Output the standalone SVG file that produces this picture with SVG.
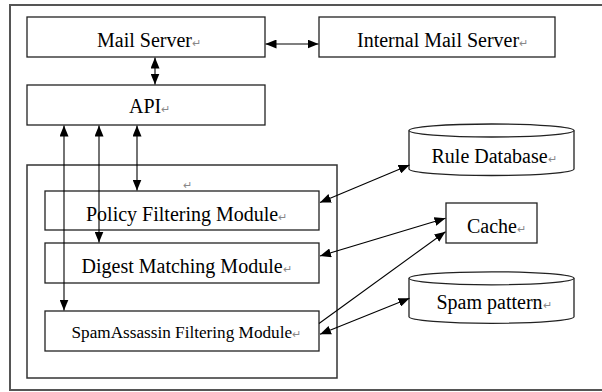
<svg xmlns="http://www.w3.org/2000/svg" width="602" height="392" viewBox="0 0 602 392">
<defs>
<marker id="ah" viewBox="0 0 11 9" refX="11" refY="4.5" markerWidth="11" markerHeight="9" markerUnits="userSpaceOnUse" orient="auto-start-reverse">
<path d="M0,0 L11,4.5 L0,9 z" fill="#000"/>
</marker>
</defs>
<style>
.frame{fill:none;stroke:#555;stroke-width:2}
.inner{fill:none;stroke:#333;stroke-width:1.5}
.box{fill:#fff;stroke:#222;stroke-width:1.3}
text{font-family:'Liberation Serif','Times New Roman',serif;font-size:20px;fill:#000}
.ret{font-size:11px;fill:#888}
.c{stroke:#000;stroke-width:1.1;fill:none}
.both{marker-start:url(#ah);marker-end:url(#ah)}
.one{marker-end:url(#ah)}
</style>
<rect width="602" height="392" fill="#fff"/>
<path class="frame" d="M610,5 H10 V390 H610"/>
<rect class="inner" x="27" y="165" width="310" height="213"/>
<text class="ret" x="183" y="189" font-family="Liberation Serif, serif">↵</text>

<g id="mail-server">
<rect class="box" x="27" y="17" width="238" height="40"/>
<text x="97" y="46.5" font-family="Liberation Serif, serif">Mail Server<tspan class="ret">↵</tspan></text>
</g>
<g id="internal-mail-server">
<rect class="box" x="319" y="17" width="236" height="40"/>
<text x="357" y="46.5" font-family="Liberation Serif, serif">Internal Mail Server<tspan class="ret">↵</tspan></text>
</g>
<g id="api">
<rect class="box" x="27" y="85" width="238" height="40"/>
<text x="129" y="113" font-family="Liberation Serif, serif">API<tspan class="ret">↵</tspan></text>
</g>
<g id="policy">
<rect class="box" x="45" y="191" width="274" height="39"/>
<text x="86" y="220.5" font-family="Liberation Serif, serif">Policy Filtering Module<tspan class="ret">↵</tspan></text>
</g>
<g id="digest">
<rect class="box" x="45" y="243" width="274" height="40"/>
<text x="81.5" y="273" font-family="Liberation Serif, serif">Digest Matching Module<tspan class="ret">↵</tspan></text>
</g>
<g id="spamassassin">
<rect class="box" x="45" y="311" width="274" height="40"/>
<text x="71.5" y="338" font-family="Liberation Serif, serif" style="font-size:17.2px">SpamAssassin Filtering Module<tspan class="ret">↵</tspan></text>
</g>
<g id="rule-database">
<path class="box" d="M409,130.5 V169 A82.5,6.5 0 0 0 574,169 V130.5"/>
<ellipse class="box" cx="491.5" cy="130.5" rx="82.5" ry="6.5"/>
<text x="431.5" y="163" font-family="Liberation Serif, serif">Rule Database<tspan class="ret">↵</tspan></text>
</g>
<g id="cache">
<rect class="box" x="446" y="203" width="91" height="40"/>
<text x="467" y="232.5" font-family="Liberation Serif, serif">Cache<tspan class="ret">↵</tspan></text>
</g>
<g id="spam-pattern">
<path class="box" d="M409,278.3 V316.8 A82.5,6.5 0 0 0 574,316.8 V278.3"/>
<ellipse class="box" cx="491.5" cy="278.3" rx="82.5" ry="6.5"/>
<text x="436.5" y="309" font-family="Liberation Serif, serif">Spam pattern<tspan class="ret">↵</tspan></text>
</g>

<g id="connectors">
<line class="c both" x1="155" y1="57.5" x2="155" y2="84.5"/>
<line class="c both" x1="265.5" y1="44" x2="318.5" y2="44"/>
<line class="c both" x1="137" y1="125.5" x2="137" y2="190.5"/>
<line class="c both" x1="99" y1="125.5" x2="99" y2="242.5"/>
<line class="c both" x1="64" y1="125.5" x2="64" y2="310.5"/>
<line class="c both" x1="409.5" y1="165" x2="320" y2="202.5"/>
<line class="c both" x1="445.5" y1="218.3" x2="320" y2="256"/>
<line class="c one" x1="319" y1="323.5" x2="445.5" y2="231.7"/>
<line class="c both" x1="409.5" y1="298.3" x2="320" y2="334.3"/>
</g>
</svg>
